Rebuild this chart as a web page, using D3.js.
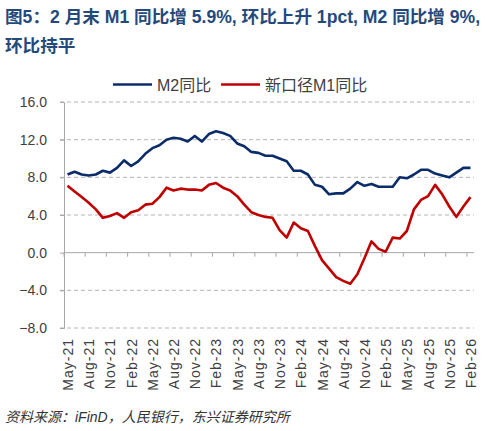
<!DOCTYPE html>
<html><head><meta charset="utf-8">
<script src="https://cdn.jsdelivr.net/npm/d3@7/dist/d3.min.js"></script>
<style>
body{margin:0;background:#fff;}
svg{display:block;font-family:"Liberation Sans","Noto Sans CJK SC",sans-serif;}
</style></head><body>
<svg id="c" width="488" height="431"></svg>
<script>
const months = [];
(function(){const mn=["Jan","Feb","Mar","Apr","May","Jun","Jul","Aug","Sep","Oct","Nov","Dec"];
 for(let i=0;i<58;i++){const t=2021*12+4+i;months.push(mn[t%12]+"-"+String(Math.floor(t/12)).slice(2));}})();
const m2 = [8.3,8.6,8.3,8.2,8.3,8.7,8.5,9.0,
 9.8,9.2,9.7,10.5,11.1,11.4,12.0,12.2,12.1,11.8,12.4,11.8,
 12.6,12.9,12.7,12.4,11.6,11.3,10.7,10.6,10.3,10.3,10.0,9.7,
 8.7,8.7,8.3,7.2,7.0,6.2,6.3,6.3,6.8,7.5,7.1,7.3,
 7.0,7.0,7.0,8.0,7.9,8.3,8.8,8.8,8.4,8.2,8.0,8.5,
 9.0,9.0];
const m1 = [7.1,6.5,5.9,5.3,4.6,3.7,3.9,4.2,
 3.7,4.3,4.5,5.1,5.2,5.9,6.9,6.6,6.8,6.7,6.7,6.6,
 7.2,7.4,6.9,6.6,6.0,5.1,4.3,4.0,3.8,3.7,2.4,1.6,
 3.2,2.6,2.3,0.7,-0.8,-1.7,-2.6,-3.0,-3.3,-2.3,-0.6,1.2,
 0.4,0.1,1.6,1.5,2.3,4.6,5.6,6.0,7.2,6.2,4.9,3.8,
 4.9,5.9];
const yTicks = [16,12,8,4,0,-4,-8];
const seriesNames = ["M2同比","新口径M1同比"];
const colors = ["#0b2c6b","#c00000"];

const svg = d3.select("#c");
const L=64,R=474,T=102,B=328;
const x = d3.scaleBand().domain(months).range([L,R]);
const y = d3.scaleLinear().domain([-8,16]).range([B,T]);

// title
const tc="#244a7c";
svg.append("text").attr("x",5).attr("y",23).attr("fill",tc).attr("font-weight","bold").attr("font-size",17.6)
  .text("图5：2 月末 M1 同比增 5.9%, 环比上升 1pct, M2 同比增 9%,");
svg.append("text").attr("x",5).attr("y",52).attr("fill",tc).attr("font-weight","bold").attr("font-size",17.6)
  .text("环比持平");

// grid
svg.append("g").selectAll("line").data(yTicks.filter(d=>d!==0)).join("line")
  .attr("x1",L-4).attr("x2",R).attr("y1",d=>y(d)).attr("y2",d=>y(d))
  .attr("stroke","#b4b4b4").attr("stroke-dasharray","4,3").attr("stroke-width",1);

// y axis
const ya = svg.append("g").attr("transform",`translate(${L},0)`)
  .call(d3.axisLeft(y).tickValues(yTicks).tickFormat(d3.format(".1f")).tickSize(4).tickPadding(13));
ya.select(".domain").attr("stroke","#a6a6a6");
ya.selectAll(".tick line").attr("stroke","#a6a6a6");
ya.selectAll("text").attr("font-size",14).attr("fill","#404040").attr("font-family","Liberation Sans, sans-serif");

// zero axis with ticks
const xa = svg.append("g").attr("transform",`translate(0,${y(0)})`);
xa.append("line").attr("x1",L).attr("x2",R).attr("stroke","#a6a6a6");
const tickIdx = d3.range(0,59,3);
xa.selectAll("line.t").data(tickIdx).join("line").attr("class","t")
  .attr("x1",i=>L+i*x.step()).attr("x2",i=>L+i*x.step()).attr("y1",0).attr("y2",4).attr("stroke","#a6a6a6");

// x labels
svg.append("g").selectAll("text").data(months.filter((d,i)=>i%3===0)).join("text")
  .attr("transform",d=>`translate(${x(d)+x.bandwidth()/2+5.5},338) rotate(-90)`)
  .attr("text-anchor","end").attr("font-size",14).attr("letter-spacing",1).attr("fill","#404040").text(d=>d);

// lines
const line = d3.line().x((d,i)=>x(months[i])+x.bandwidth()/2).y(d=>y(d));
[m2,m1].forEach((s,k)=>{
  svg.append("path").datum(s).attr("d",line).attr("fill","none").attr("stroke",colors[k])
    .attr("stroke-width",2.6).attr("stroke-linejoin","round");
});

// legend
const lg = svg.append("g").attr("font-size",16).attr("fill","#404040");
[[113,157],[221,265]].forEach((p,k)=>{
  lg.append("line").attr("x1",p[0]).attr("x2",p[0]+39).attr("y1",84.5).attr("y2",84.5).attr("stroke",colors[k]).attr("stroke-width",2.6);
  lg.append("text").attr("x",p[1]).attr("y",91).attr("fill","#404040").text(seriesNames[k]);
});

// source
svg.append("text").attr("x",5).attr("y",422).attr("font-size",14).attr("fill","#333").attr("font-style","italic")
  .text("资料来源：iFinD，人民银行，东兴证券研究所");
</script></body></html>
